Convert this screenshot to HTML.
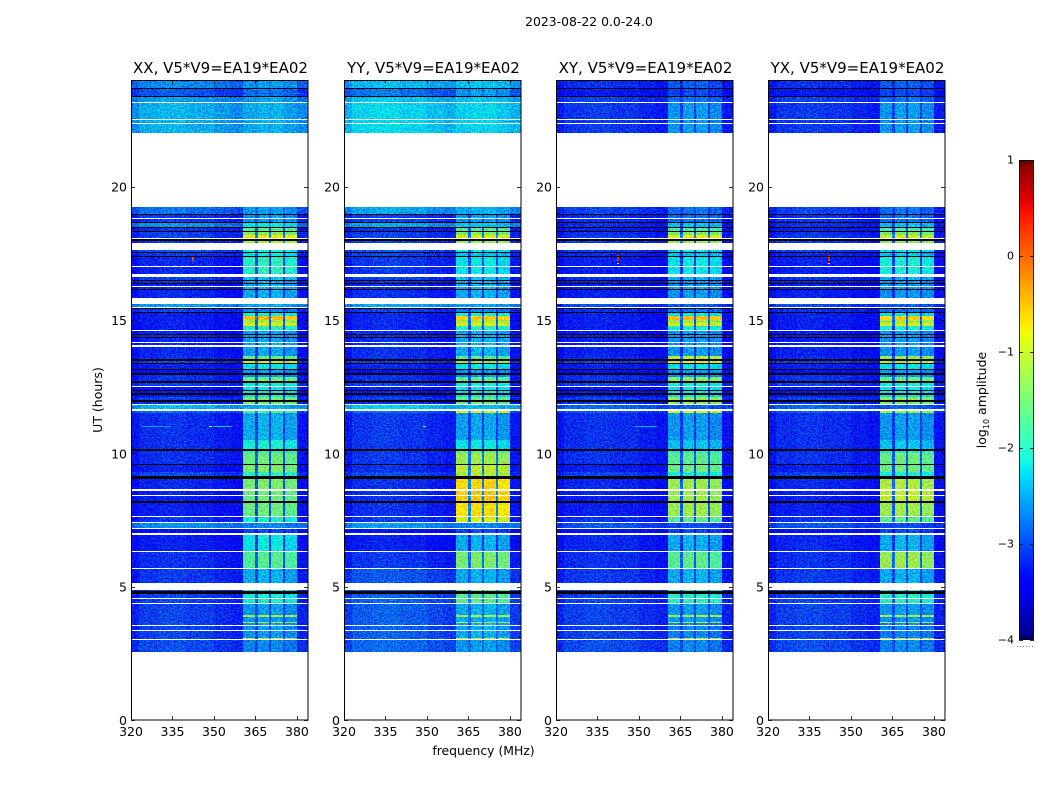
<!DOCTYPE html>
<html lang="en">
<head>
<meta charset="utf-8">
<title>2023-08-22 0.0-24.0 amplitude waterfall</title>
<style>
html,body{margin:0;padding:0;background:#fff;}
svg{display:block;}
text{font-family:"DejaVu Sans","Liberation Sans",sans-serif;fill:#000;}
.cell{shape-rendering:crispEdges;}
</style>
</head>
<body>
<svg id="figure" xmlns="http://www.w3.org/2000/svg" width="1050" height="800" viewBox="0 0 1050 800">
  <defs>
    <filter id="grain" x="0" y="0" width="1" height="1" color-interpolation-filters="sRGB">
      <feTurbulence type="fractalNoise" baseFrequency="0.75" numOctaves="1" seed="4" result="n"/>
      <feColorMatrix in="n" type="matrix" values="0 0 0 0 0.545  3.0 0 0 0 -1.0  0 1.0 0 0 -0.05  0 0 0 0 1" result="m"/>
      <feComposite in="SourceGraphic" in2="m" operator="arithmetic" k1="0" k2="1" k3="0.55" k4="-0.30"/>
    </filter>
    <linearGradient id="jet-gradient" x1="0" y1="1" x2="0" y2="0"></linearGradient>
  </defs>
  <text x="589" y="26" font-size="12.4" text-anchor="middle">2023-08-22 0.0-24.0</text>
  <text x="0" y="0" font-size="12.5" text-anchor="middle" transform="translate(102,400) rotate(-90)">UT (hours)</text>
  <text x="483.5" y="755" font-size="12.4" text-anchor="middle">frequency (MHz)</text>
  <text x="0" y="0" font-size="12.5" text-anchor="middle" transform="translate(986,400) rotate(-90)">log<tspan font-size="8" dy="3">10</tspan><tspan dy="-3"> amplitude</tspan></text>
</svg>
<script>
// Time-band boundaries in UT hours (top to bottom of the plot)
const bandEdgesUT = [24,23.7,23.4,23.17,19.22,18.94,18.66,18.44,18.3,18.19,
  17.97,17.85,17.5,17.38,16.61,16.47,15.6,15.45,15.26,15.15,
  15.0,14.9,14.78,14.6,13.65,13.48,13.37,13.13,12.97,12.87,
  12.67,12.52,12.12,11.93,11.83,11.62,11.5,10.5,10.12,10.0,
  9.58,9.3,9.1,8.62,8.15,7.63,7.41,7.17,6.97,6.32,
  5.69,4.88,4.37,3.92,3.88,3.66,3.62,3.08,3.03,2.55];

// log10 amplitude of the quiet background per band
const bgXX = [-2.65,-2.9,-2.55,-2.45,-2.75,-3.05,-2.6,-3.1,-3.0,-3.0,
  -3.05,-2.9,-3.05,-3.15,-3.0,-3.15,-2.55,-3.0,-3.2,-3.2,
  -3.2,-3.2,-3.2,-3.15,-3.1,-3.0,-3.2,-3.3,-3.1,-3.1,
  -3.0,-3.25,-3.0,-3.1,-2.4,-2.8,-3.1,-3.1,-3.1,-3.1,
  -3.2,-2.95,-3.15,-3.2,-3.2,-3.1,-2.6,-3.3,-3.2,-3.1,
  -3.05,-3.0,-3.0,-3.0,-3.0,-3.0,-3.0,-2.95,-2.95];
const bgYY = [-2.4,-2.75,-2.35,-2.25,-2.5,-3.0,-2.5,-3.1,-3.0,-3.0,
  -3.0,-2.9,-3.0,-3.05,-3.0,-3.1,-2.5,-3.0,-3.15,-3.15,
  -3.15,-3.15,-3.15,-3.1,-3.1,-3.0,-3.15,-3.3,-3.1,-3.1,
  -3.0,-3.2,-3.0,-3.1,-2.3,-2.8,-3.05,-3.05,-3.05,-3.05,
  -3.1,-2.95,-3.1,-3.1,-3.1,-3.05,-2.55,-3.3,-3.2,-3.05,
  -2.9,-2.85,-2.85,-2.85,-2.85,-2.85,-2.85,-2.8,-2.8];
const bgXY = [-3.1,-3.25,-3.0,-3.05,-3.0,-3.1,-3.1,-3.2,-3.1,-3.05,
  -3.05,-3.0,-3.15,-3.2,-3.1,-3.2,-2.95,-3.1,-3.2,-3.2,
  -3.2,-3.2,-3.2,-3.2,-3.15,-3.0,-3.2,-3.3,-3.1,-3.1,
  -3.0,-3.25,-3.0,-3.1,-2.8,-2.9,-3.1,-3.1,-3.1,-3.1,
  -3.2,-3.0,-3.15,-3.2,-3.2,-3.1,-2.9,-3.3,-3.15,-3.1,
  -3.05,-3.0,-3.0,-3.0,-3.0,-3.0,-3.0,-2.95,-2.95];
const bgYX = [-3.1,-3.25,-3.0,-3.05,-3.0,-3.1,-3.1,-3.2,-3.1,-3.05,
  -3.05,-3.0,-3.15,-3.2,-3.1,-3.2,-2.95,-3.1,-3.2,-3.2,
  -3.2,-3.2,-3.2,-3.2,-3.15,-3.0,-3.2,-3.3,-3.1,-3.1,
  -3.0,-3.25,-3.0,-3.1,-2.8,-2.9,-3.1,-3.1,-3.1,-3.1,
  -3.2,-3.0,-3.15,-3.2,-3.2,-3.1,-2.9,-3.3,-3.15,-3.1,
  -3.05,-3.0,-3.0,-3.0,-3.0,-3.0,-3.0,-2.95,-2.95];

// log10 amplitude inside the 360-380 MHz subbands per band
const winXX = [-2.6,-2.8,-2.55,-2.5,-2.6,-2.6,-2.2,-1.7,-1.5,-0.75,
  -1.2,-2.1,-2.2,-2.0,-2.4,-2.5,-2.55,-2.7,-2.1,-0.5,
  -1.3,-0.9,-2.0,-2.55,-1.6,-1.1,-2.2,-2.6,-2.6,-1.6,
  -2.1,-2.2,-1.5,-1.5,-2.5,-1.7,-2.5,-2.1,-2.0,-1.6,
  -1.5,-2.0,-1.5,-1.6,-1.6,-2.1,-2.7,-3.0,-2.2,-1.75,
  -2.5,-2.1,-2.6,-1.2,-2.6,-1.2,-2.6,-1.1,-2.7];
const winYY = [-2.4,-2.6,-2.4,-2.3,-2.5,-2.6,-2.4,-1.7,-1.5,-0.9,
  -1.3,-2.2,-2.4,-2.2,-2.4,-2.5,-2.55,-2.7,-2.1,-0.6,
  -1.2,-0.9,-2.0,-2.5,-1.7,-1.4,-2.2,-2.6,-2.6,-1.7,
  -2.1,-2.2,-1.6,-1.5,-2.45,-0.9,-2.55,-2.2,-1.7,-1.3,
  -1.1,-1.2,-0.65,-0.55,-0.7,-0.95,-2.7,-3.0,-2.5,-1.5,
  -2.5,-1.7,-2.5,-1.2,-2.5,-1.2,-2.5,-1.0,-2.6];
const winXY = [-2.9,-3.0,-2.8,-2.6,-2.8,-2.8,-2.4,-1.8,-1.5,-0.8,
  -1.3,-2.2,-2.4,-2.2,-2.5,-2.6,-2.9,-2.8,-2.2,-0.5,
  -1.3,-0.9,-2.1,-2.6,-1.1,-0.9,-2.2,-2.6,-2.6,-1.4,
  -2.1,-2.2,-1.3,-1.3,-2.9,-0.9,-2.6,-2.4,-2.0,-1.7,
  -1.6,-2.1,-1.3,-1.3,-1.3,-1.7,-3.0,-3.0,-2.5,-1.7,
  -2.5,-2.0,-2.6,-1.2,-2.6,-1.2,-2.7,-1.1,-2.7];
const winYX = [-2.9,-3.0,-2.8,-2.6,-2.8,-2.8,-2.4,-1.8,-1.5,-1.0,
  -1.4,-2.2,-2.4,-2.1,-2.5,-2.6,-2.9,-2.8,-2.2,-0.6,
  -1.3,-0.9,-2.1,-2.6,-1.3,-1.2,-2.2,-2.6,-2.6,-1.6,
  -2.1,-2.2,-1.4,-1.4,-2.9,-1.2,-2.6,-2.4,-2.0,-1.6,
  -1.6,-2.1,-1.2,-1.1,-1.3,-1.7,-3.0,-3.0,-2.5,-1.3,
  -2.5,-2.0,-2.6,-1.2,-2.6,-1.2,-2.7,-1.1,-2.7];

// Frequency blocks (MHz edges) and how each block responds
const freqEdges = [320,323,330,340,350,356,360.5,364.7,365.9,369.9,370.6,374.9,375.6,379.9,384];
const blockBgOffset = [-0.22,-0.05,0,-0.05,-0.15,-0.22,0,-0.1,0,-0.1,0,-0.1,0,-0.22];
const blockWindowWeight = [0,0,0,0,0,0,1,0.2,1,0.2,1,0.2,1,0];
const blockWindowOffset = [0,0,0,0,0,0,-0.02,0,0.03,0,0.03,0,-0.07,0];

// UT spans with no data (white) as top,bottom pairs
const blankTopUT = [23.175,22.556,22.406,22.01,18.825,18.09,17.876,17.80,17.025,16.725,
  16.26,15.81,15.49,14.625,14.175,14.05,12.54,11.85,11.65,8.65,
  8.44,7.66,7.425,7.19,7.0,6.34,5.71,5.126,4.586,4.39,
  3.56,3.375,3.04,2.55];
const blankBottomUT = [23.1375,22.519,22.369,19.22,18.79,18.06,17.82,17.625,16.99,16.61,
  16.23,15.60,15.45,14.59,14.13,13.98,12.50,11.81,11.60,8.59,
  8.40,7.605,7.39,7.15,6.94,6.30,5.67,4.875,4.55,4.35,
  3.525,3.34,3.0,0];

// UT spans of zero amplitude (black)
const zeroTopUT = [23.7,23.4,18.96,18.675,18.48,18.34,18.04,17.54,17.4,16.49,
  16.38,16.16,15.45,15.3,14.46,14.35,13.53,13.40,13.15,13.0,
  12.70,12.375,12.27,12.0,10.15,9.6,9.15,8.21,4.83];
const zeroBottomUT = [23.66,23.36,18.92,18.65,18.44,18.29,17.97,17.50,17.36,16.45,
  16.34,16.125,15.40,15.26,14.43,14.325,13.47,13.34,13.11,12.95,
  12.65,12.33,12.2,11.925,10.1,9.55,9.05,8.15,4.725];

// Isolated interference features
const spikePanel = [0,0,0,1,2,2,3,3,0,2];
const spikeFreqLo = [323.7,348.2,349.6,348.5,342,342,341.6,341.6,342.2,348.5];
const spikeFreqHi = [334.5,349.2,356.7,349.5,342.8,342.8,342.4,342.4,342.8,356.7];
const spikeTopUT = [11.04,11.04,11.04,11.04,17.45,17.15,17.45,17.15,17.35,11.04];
const spikeBottomUT = [11.01,11.01,11.01,11.01,17.2,17.11,17.2,17.11,17.2,11.01];
const spikeLevel = [-2.6,-1.0,-2.4,-1.7,0.35,-0.7,0.35,-0.7,0.2,-2.5];

const panelTitles = ["XX, V5*V9=EA19*EA02","YY, V5*V9=EA19*EA02","XY, V5*V9=EA19*EA02","YX, V5*V9=EA19*EA02"];
const panelBg = [bgXX,bgYY,bgXY,bgYX];
const panelWin = [winXX,winYY,winXY,winYX];
const panelKeys = ["xx","yy","xy","yx"];
const xTickValues = [320,335,350,365,380];
const yTickValues = [0,5,10,15,20];
const colorbarTicks = [1,0,-1,-2,-3,-4];

const NS = "http://www.w3.org/2000/svg";
const svg = document.getElementById("figure");
const panelLeft = [131,344,556,768];
const plotW = 177, plotTop = 80, plotBottom = 720;

function xScale(left, f){ return left + (f-320)/(384-320)*plotW; }
function yScale(u){ return plotBottom - u/24*(plotBottom-plotTop); }
function colorT(v){ return Math.max(0,Math.min(1,(v+4)/5)); }
function clamp(t){ return Math.max(0,Math.min(1,t)); }
function jet(v){
  const t = colorT(v);
  const r = t<0.35?0:t<0.66?(t-0.35)/0.31:t<0.89?1:1-(t-0.89)/0.11*0.5;
  const g = t<0.125?0:t<0.375?(t-0.125)/0.25:t<0.64?1:t<0.91?1-(t-0.64)/0.27:0;
  const b = t<0.11?0.5+t/0.11*0.5:t<0.34?1:t<0.65?1-(t-0.34)/0.31:0;
  return "rgb("+Math.round(clamp(r)*255)+","+Math.round(clamp(g)*255)+","+Math.round(clamp(b)*255)+")";
}
function make(tag, parent, attrs){
  const el = document.createElementNS(NS, tag);
  for (const k in attrs) el.setAttribute(k, attrs[k]);
  parent.appendChild(el);
  return el;
}
function pixelRect(parent, x0, x1, y0, y1, fill){
  return make("rect", parent, {class:"cell", x:Math.round(x0), y:Math.round(y0),
    width:Math.max(1,Math.round(x1)-Math.round(x0)), height:Math.max(1,Math.round(y1)-Math.round(y0)), fill:fill});
}

panelTitles.forEach(function(title, p){
  const left = panelLeft[p], key = panelKeys[p];
  const panel = make("g", svg, {});
  
  

  const cells = make("g", panel, {filter:"url(#grain)"});
  
  
  for (let b=0; b<bandEdgesUT.length-1; b++){
    for (let c=0; c<freqEdges.length-1; c++){
      const w = blockWindowWeight[c];
      const bg = panelBg[p][b] + blockBgOffset[c];
      const win = panelWin[p][b] + blockWindowOffset[c];
      const level = bg + w*(win-bg);
      const cell = pixelRect(cells, xScale(left,freqEdges[c]), xScale(left,freqEdges[c+1]),
        yScale(bandEdgesUT[b]), yScale(bandEdgesUT[b+1]), jet(level));
      
      
    }
  }

  for (let s=0; s<spikePanel.length; s++){
    if (spikePanel[s]!==p) continue;
    const spike = pixelRect(panel, xScale(left,spikeFreqLo[s]), xScale(left,spikeFreqHi[s]),
      yScale(spikeTopUT[s]), yScale(spikeBottomUT[s]), jet(spikeLevel[s]));
    
    
  }
  for (let z=0; z<zeroTopUT.length; z++){
    const zero = pixelRect(panel, left, left+plotW, yScale(zeroTopUT[z]), yScale(zeroBottomUT[z]), "#000");
    
    
  }
  for (let g=0; g<blankTopUT.length; g++){
    const blank = pixelRect(panel, left, left+plotW, yScale(blankTopUT[g]), yScale(blankBottomUT[g]), "#fff");
    
    
  }

  const frame = make("rect", panel, {x:left+0.5, y:plotTop+0.5, width:plotW-0.5, height:plotBottom-plotTop-0.5, fill:"none", stroke:"#000", "stroke-width":1});
  
  

  xTickValues.forEach(function(f){
    const x = Math.round(xScale(left,f))+0.5;
    const tickB = make("line", panel, {x1:x,x2:x,y1:plotBottom,y2:plotBottom-4,stroke:"#000","stroke-width":0.8});
    
    
    const tickT = make("line", panel, {x1:x,x2:x,y1:plotTop,y2:plotTop+4,stroke:"#000","stroke-width":0.8});
    
    
    const label = make("text", panel, {x:xScale(left,f),y:plotBottom+16,"font-size":12.5,"text-anchor":"middle"});
    label.textContent = f;
    
    
  });
  yTickValues.forEach(function(u){
    const y = Math.round(yScale(u))+0.5;
    const tickL = make("line", panel, {x1:left,x2:left+4,y1:y,y2:y,stroke:"#000","stroke-width":0.8});
    
    
    const tickR = make("line", panel, {x1:left+plotW,x2:left+plotW-4,y1:y,y2:y,stroke:"#000","stroke-width":0.8});
    
    
    const label = make("text", panel, {x:left-4,y:yScale(u)+5,"font-size":12.5,"text-anchor":"end"});
    label.textContent = u;
    
    
  });
  const heading = make("text", panel, {x:left+plotW/2+1,y:73,"font-size":15,"text-anchor":"middle"});
  heading.textContent = title;
  
  
});

// Colorbar
const cbX = 1019, cbW = 15, cbTop = 160, cbBottom = 640;
function cbY(v){ return cbBottom - (v+4)/5*(cbBottom-cbTop); }
const gradient = document.getElementById("jet-gradient");
for (let i=0; i<=50; i++){
  make("stop", gradient, {offset:(i*2)+"%","stop-color":jet(-4+i/10)});
}
const cb = make("g", svg, {});


const ramp = make("rect", cb, {x:cbX,y:cbTop,width:cbW,height:cbBottom-cbTop,fill:"url(#jet-gradient)"});


const cbFrame = make("rect", cb, {x:cbX+0.5,y:cbTop+0.5,width:cbW-1,height:cbBottom-cbTop-1,fill:"none",stroke:"#000","stroke-width":1,"stroke-opacity":0.8});


colorbarTicks.forEach(function(v){
  const y = Math.round(cbY(v))+0.5;
  const tl = make("line", cb, {x1:cbX,x2:cbX+4,y1:y,y2:y,stroke:"#000","stroke-width":0.8});
  
  
  const tr = make("line", cb, {x1:cbX+cbW,x2:cbX+cbW-4,y1:y,y2:y,stroke:"#000","stroke-width":0.8});
  
  
  const label = make("text", cb, {x:cbX-5,y:cbY(v)+3.5,"font-size":11,"text-anchor":"end"});
  label.textContent = (v<0?"\u2212":"")+Math.abs(v);
  
  
});
const cbEndMarks = make("path", cb, {d:"M1022 160v4M1025 160v4M1028 160v4M1031 160v4M1022 640v-4M1025 640v-4M1028 640v-4M1031 640v-4",stroke:"#000","stroke-width":0.7,fill:"none"});


const cbDots = make("line", cb, {x1:1017,x2:1035,y1:646.5,y2:646.5,stroke:"#777","stroke-width":1,"stroke-dasharray":"1 2"});


</script>
</body>
</html>
